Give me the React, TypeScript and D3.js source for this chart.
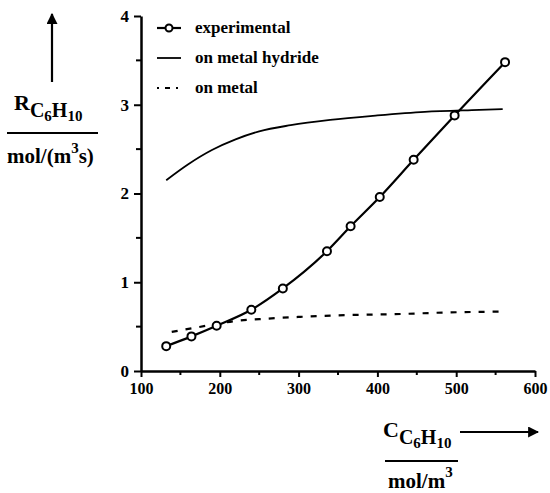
import React, { useRef, useEffect } from 'react';
import * as d3 from 'd3';

// experimental points (C in mol/m3, R in mol/(m3 s))
const expC = [132, 164, 196, 240, 280, 336, 366, 403, 446, 498, 562];
const expR = [0.28, 0.39, 0.51, 0.69, 0.93, 1.35, 1.63, 1.96, 2.38, 2.88, 3.48];

// model curve, on metal hydride
const hydC = [132, 160, 190, 220, 250, 290, 340, 400, 460, 520, 559];
const hydR = [2.15, 2.33, 2.49, 2.61, 2.70, 2.77, 2.83, 2.88, 2.92, 2.94, 2.95];

// model curve, on metal
const metC = [139, 170, 196, 217, 260, 302, 360, 420, 490, 562];
const metR = [0.44, 0.49, 0.53, 0.56, 0.59, 0.61, 0.63, 0.64, 0.66, 0.67];

const xTicks = [100, 200, 300, 400, 500, 600];
const xMinor = [150, 250, 350, 450, 550];
const yTicks = [0, 1, 2, 3, 4];
const yMinor = [0.5, 1.5, 2.5, 3.5];

const legendItems = ['experimental', 'on metal hydride', 'on metal'];

const FONT = 'Liberation Serif';

const App = () => {
    const ref = useRef(null);

    useEffect(() => {
        document.body.style.margin = '0';
        const svg = d3.select(ref.current);
        svg.selectAll('*').remove();

        const x = d3.scaleLinear().domain([100, 600]).range([141, 535]);
        const y = d3.scaleLinear().domain([0, 4]).range([371, 16]);

        const g = svg.append('g').attr('font-family', FONT).attr('fill', '#000');

        // x axis
        const xAxis = d3.axisBottom(x).tickValues(xTicks).tickFormat(d3.format('d'))
            .tickSize(6).tickPadding(6).tickSizeOuter(0);
        const gx = g.append('g').attr('transform', `translate(0, ${y(0)})`).call(xAxis);
        gx.attr('font-family', FONT);
        gx.select('.domain').attr('stroke-width', 2.5);
        gx.selectAll('.tick line').attr('stroke-width', 2);
        gx.selectAll('.tick text').attr('font-size', 16).attr('font-weight', 'bold').attr('font-family', FONT);
        g.append('g').selectAll('line').data(xMinor).join('line')
            .attr('x1', d => x(d)).attr('x2', d => x(d))
            .attr('y1', y(0)).attr('y2', y(0) + 4)
            .attr('stroke', '#000').attr('stroke-width', 2);

        // y axis
        const yAxis = d3.axisLeft(y).tickValues(yTicks).tickFormat(d3.format('d'))
            .tickSize(7).tickPadding(5).tickSizeOuter(0);
        const gy = g.append('g').attr('transform', `translate(${x(100)}, 0)`).call(yAxis);
        gy.attr('font-family', FONT);
        gy.select('.domain').attr('stroke-width', 2.5);
        gy.selectAll('.tick line').attr('stroke-width', 2);
        gy.selectAll('.tick text').attr('font-size', 17).attr('font-weight', 'bold').attr('font-family', FONT);
        g.append('g').selectAll('line').data(yMinor).join('line')
            .attr('x1', x(100)).attr('x2', x(100) - 5)
            .attr('y1', d => y(d)).attr('y2', d => y(d))
            .attr('stroke', '#000').attr('stroke-width', 2);

        const line = d3.line()
            .x(d => x(d[0]))
            .y(d => y(d[1]))
            .curve(d3.curveMonotoneX);

        const expData = expC.map((c, i) => [c, expR[i]]);
        const hydData = hydC.map((c, i) => [c, hydR[i]]);
        const metData = metC.map((c, i) => [c, metR[i]]);

        g.append('path').datum(hydData)
            .attr('fill', 'none').attr('stroke', '#000').attr('stroke-width', 1.8)
            .attr('d', line);

        g.append('path').datum(metData)
            .attr('fill', 'none').attr('stroke', '#000').attr('stroke-width', 2.2)
            .attr('stroke-dasharray', '6,8')
            .attr('d', line);

        g.append('path').datum(expData)
            .attr('fill', 'none').attr('stroke', '#000').attr('stroke-width', 2.2)
            .attr('d', line);

        g.append('g').selectAll('circle').data(expData).join('circle')
            .attr('cx', d => x(d[0]))
            .attr('cy', d => y(d[1]))
            .attr('r', 4)
            .attr('fill', '#fff')
            .attr('stroke', '#000')
            .attr('stroke-width', 2);

        // legend
        const lg = g.append('g');
        const lx = 157, ly = 28, dy = 30;
        lg.append('line').attr('x1', lx).attr('x2', lx + 24).attr('y1', ly).attr('y2', ly)
            .attr('stroke', '#000').attr('stroke-width', 2.2);
        lg.append('circle').attr('cx', lx + 12).attr('cy', ly).attr('r', 3.5)
            .attr('fill', '#fff').attr('stroke', '#000').attr('stroke-width', 2);
        lg.append('line').attr('x1', lx).attr('x2', lx + 24).attr('y1', ly + dy).attr('y2', ly + dy)
            .attr('stroke', '#000').attr('stroke-width', 1.8);
        lg.append('line').attr('x1', lx).attr('x2', lx + 24).attr('y1', ly + 2 * dy).attr('y2', ly + 2 * dy)
            .attr('stroke', '#000').attr('stroke-width', 2).attr('stroke-dasharray', '2,6,5,6');
        lg.selectAll('text').data(legendItems).join('text')
            .attr('x', lx + 38)
            .attr('y', (d, i) => ly + i * dy + 5)
            .attr('font-family', FONT)
            .attr('font-size', 17)
            .attr('font-weight', 'bold')
            .text(d => d);

        // arrow markers
        const defs = svg.append('defs');
        defs.append('marker').attr('id', 'arr')
            .attr('viewBox', '0 0 10 10').attr('refX', 9).attr('refY', 5)
            .attr('markerWidth', 5).attr('markerHeight', 5).attr('markerUnits', 'strokeWidth')
            .attr('orient', 'auto')
            .append('path').attr('d', 'M0,0 L10,5 L0,10 z').attr('fill', '#000');

        // y label
        g.append('line').attr('x1', 52).attr('x2', 52).attr('y1', 82).attr('y2', 14)
            .attr('stroke', '#000').attr('stroke-width', 2.2).attr('marker-end', 'url(#arr)');
        const ry = g.append('text').attr('x', 14).attr('y', 110).attr('font-size', 22).attr('font-weight', 'bold');
        ry.append('tspan').text('R');
        ry.append('tspan').attr('dy', 7).attr('font-size', 20).text('C');
        ry.append('tspan').attr('dy', 4).attr('font-size', 15).text('6');
        ry.append('tspan').attr('dy', -4).attr('font-size', 20).text('H');
        ry.append('tspan').attr('dy', 4).attr('font-size', 15).text('10');
        g.append('line').attr('x1', 7).attr('x2', 98).attr('y1', 133).attr('y2', 133)
            .attr('stroke', '#000').attr('stroke-width', 2);
        const my = g.append('text').attr('x', 7).attr('y', 163).attr('font-size', 21).attr('font-weight', 'bold');
        my.append('tspan').text('mol/(m');
        my.append('tspan').attr('dy', -10).attr('font-size', 15).text('3');
        my.append('tspan').attr('dy', 10).text('s)');

        // x label
        const cx = g.append('text').attr('x', 383).attr('y', 437).attr('font-size', 22).attr('font-weight', 'bold');
        cx.append('tspan').text('C');
        cx.append('tspan').attr('dy', 7).attr('font-size', 20).text('C');
        cx.append('tspan').attr('dy', 4).attr('font-size', 15).text('6');
        cx.append('tspan').attr('dy', -4).attr('font-size', 20).text('H');
        cx.append('tspan').attr('dy', 4).attr('font-size', 15).text('10');
        g.append('line').attr('x1', 385).attr('x2', 458).attr('y1', 461).attr('y2', 461)
            .attr('stroke', '#000').attr('stroke-width', 2);
        const mx = g.append('text').attr('x', 388).attr('y', 488).attr('font-size', 21).attr('font-weight', 'bold');
        mx.append('tspan').text('mol/m');
        mx.append('tspan').attr('dy', -11).attr('font-size', 15).text('3');
        g.append('line').attr('x1', 460).attr('x2', 538).attr('y1', 432).attr('y2', 432)
            .attr('stroke', '#000').attr('stroke-width', 2.2).attr('marker-end', 'url(#arr)');
    }, []);

    return (
        <div>
            <svg ref={ref} width={550} height={493} style={{ display: 'block', background: '#fff' }} />
        </div>
    );
};

export default App;
